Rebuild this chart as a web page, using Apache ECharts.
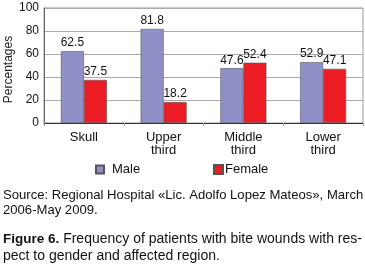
<!DOCTYPE html>
<html>
<head>
<meta charset="utf-8">
<script src="https://cdn.jsdelivr.net/npm/echarts@6/dist/echarts.min.js"></script>
</head>
<body style="margin:0;background:#fff">
<div id="container" style="width:365px;height:269px"></div>
<script type="text/javascript">
let categories = ['Skull', 'Upper\nthird', 'Middle\nthird', 'Lower\nthird'];
let male = [62.5, 81.8, 47.6, 52.9];
let female = [37.5, 18.2, 52.4, 47.1];
let yTicks = [0, 20, 40, 60, 80, 100];

let font = 'Liberation Sans, Arial, sans-serif';
let chart = echarts.init(document.getElementById('container'));

let label = {
    show: true,
    position: 'top',
    distance: 2,
    fontFamily: font,
    fontSize: 12,
    color: '#111'
};

chart.setOption({
    animation: false,
    grid: {left: 44, right: 2, top: 8, bottom: 146, outerBoundsMode: 'none', containLabel: false,
           show: true, borderColor: '#999', borderWidth: 1},
    legend: [
        {data: ['Male'], left: 95, top: 163, padding: 0, itemWidth: 8, itemHeight: 8, icon: 'rect',
         textStyle: {fontFamily: font, fontSize: 13, color: '#111', padding: [0, 0, 0, 3]}},
        {data: ['Female'], left: 213, top: 163, padding: 0, itemWidth: 9, itemHeight: 9, icon: 'rect',
         textStyle: {fontFamily: font, fontSize: 13, color: '#111', padding: [0, 0, 0, -3]}}
    ],
    xAxis: {
        type: 'category',
        data: categories,
        axisLine: {lineStyle: {color: '#333', width: 1}},
        axisTick: {show: true, length: 3, lineStyle: {color: '#999'}},
        axisLabel: {fontFamily: font, fontSize: 13, color: '#111', margin: 8, lineHeight: 13}
    },
    yAxis: {
        type: 'value',
        min: 0,
        max: yTicks[yTicks.length - 1],
        interval: 20,
        name: 'Percentages',
        nameLocation: 'middle',
        nameGap: 29,
        nameMoveOverlap: false,
        nameTextStyle: {fontFamily: font, fontSize: 12, color: '#222', padding: [0, 0, 0, -8]},
        axisLine: {show: true, lineStyle: {color: '#666'}},
        axisTick: {show: false},
        axisLabel: {fontFamily: font, fontSize: 12, color: '#111', margin: 5},
        splitLine: {lineStyle: {color: '#aaa', width: 1}}
    },
    series: [
        {name: 'Male', type: 'bar', data: male, barWidth: 23, barGap: '0%',
         itemStyle: {color: '#9090c8', borderColor: '#555', borderWidth: 0.6}, label: label},
        {name: 'Female', type: 'bar', data: female, barWidth: 23,
         itemStyle: {color: '#ec1c24', borderColor: '#555', borderWidth: 0.6}, label: label}
    ],
    graphic: [
        {type: 'text', left: 3, top: 188, style: {text: 'Source: Regional Hospital \u00abLic. Adolfo Lopez Mateos\u00bb, March\n2006-May 2009.', fontFamily: font, fontSize: 13.1, lineHeight: 15, fill: '#111'}},
        {type: 'text', left: 3, top: 232, style: {
            text: '{b|Figure 6.}{n| Frequency of patients with bite wounds with res-}',
            fontFamily: font, fontSize: 14, fill: '#111',
            rich: {
                b: {fontWeight: 'bold', fontFamily: font, fontSize: 13.5, fill: '#111'},
                n: {fontFamily: font, fontSize: 14, fill: '#111'}
            }}},
        {type: 'text', left: 3, top: 249, style: {text: 'pect to gender and affected region.', fontFamily: font, fontSize: 14, fill: '#111'}}
    ]
});
</script>
</body>
</html>
